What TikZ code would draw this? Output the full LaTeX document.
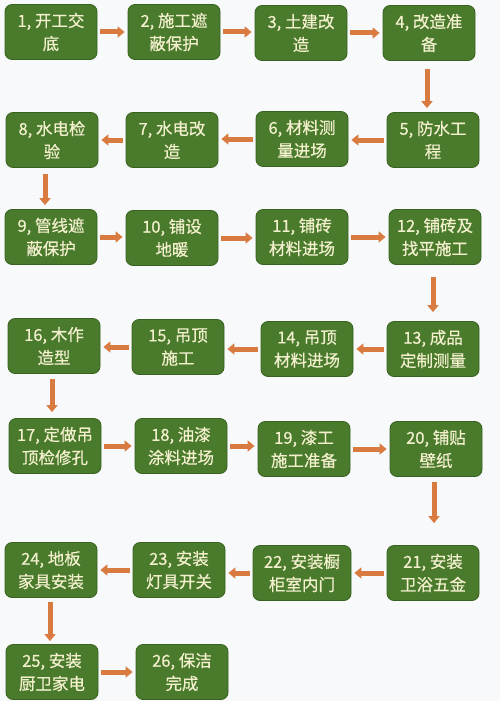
\documentclass[tikz,border=0pt]{standalone}
\usepackage{fontspec}
\newfontfamily\cjk[FakeBold=0.5]{Noto Sans CJK SC}
\usetikzlibrary{arrows.meta}
\definecolor{boxgreen}{RGB}{74,122,44}
\definecolor{boxedge}{RGB}{56,98,32}
\definecolor{cream}{RGB}{243,240,206}
\definecolor{arrowc}{RGB}{217,122,64}
\definecolor{bgc}{RGB}{247,249,250}
\tikzset{
  stepbox/.style={rounded corners=7pt, fill=boxgreen, draw=boxedge, line width=0.8pt,
    minimum width=92pt, minimum height=55pt, text=cream, align=center, inner sep=2pt,
    font=\cjk\fontsize{16.5}{23}\selectfont},
  arr/.style={draw=arrowc, line width=5pt, -{Triangle[width=11pt,length=7pt]},
    shorten <=3pt, shorten >=3pt}
}
\begin{document}
\begin{tikzpicture}[x=1pt,y=-1pt]
\fill[bgc] (0,0) rectangle (500,701);
\useasboundingbox (0,0) rectangle (500,701);
% row 1
\node[stepbox] (n1) at (51,32) {1, 开工交\\底};
\node[stepbox] (n2) at (174,32) {2, 施工遮\\蔽保护};
\node[stepbox] (n3) at (301,33) {3, 土建改\\造};
\node[stepbox] (n4) at (429,33) {4, 改造准\\备};
% row 2
\node[stepbox] (n5) at (433,140) {5, 防水工\\程};
\node[stepbox] (n6) at (302,139) {6, 材料测\\量进场};
\node[stepbox] (n7) at (172,140) {7, 水电改\\造};
\node[stepbox] (n8) at (52,140) {8, 水电检\\验};
% row 3
\node[stepbox] (n9) at (51,237) {9, 管线遮\\蔽保护};
\node[stepbox] (n10) at (172,238) {10, 铺设\\地暖};
\node[stepbox] (n11) at (302,237) {11, 铺砖\\材料进场};
\node[stepbox] (n12) at (435,237) {12, 铺砖及\\找平施工};
% row 4
\node[stepbox] (n13) at (433,349) {13, 成品\\定制测量};
\node[stepbox] (n14) at (307,349) {14, 吊顶\\材料进场};
\node[stepbox] (n15) at (178,347) {15, 吊顶\\施工};
\node[stepbox] (n16) at (54,346) {16, 木作\\造型};
% row 5
\node[stepbox] (n17) at (55,446) {17, 定做吊\\顶检修孔};
\node[stepbox] (n18) at (181,446) {18, 油漆\\涂料进场};
\node[stepbox] (n19) at (304,449) {19, 漆工\\施工准备};
\node[stepbox] (n20) at (436,449) {20, 铺贴\\壁纸};
% row 6
\node[stepbox] (n21) at (433,573) {21, 安装\\卫浴五金};
\node[stepbox, minimum width=98pt] (n22) at (302,573) {22, 安装橱\\柜室内门};
\node[stepbox] (n23) at (179,570) {23, 安装\\灯具开关};
\node[stepbox] (n24) at (51,570) {24, 地板\\家具安装};
% row 7
\node[stepbox] (n25) at (52,672) {25, 安装\\厨卫家电};
\node[stepbox] (n26) at (182,672) {26, 保洁\\完成};
% horizontal arrows
\draw[arr] (n1.east) -- (n1.east -| n2.west);
\draw[arr] (n2.east) -- (n2.east -| n3.west);
\draw[arr] (n3.east) -- (n3.east -| n4.west);
\draw[arr] (n5.west) -- (n5.west -| n6.east);
\draw[arr] (n6.west) -- (n6.west -| n7.east);
\draw[arr] (n7.west) -- (n7.west -| n8.east);
\draw[arr] (n9.east) -- (n9.east -| n10.west);
\draw[arr] (n10.east) -- (n10.east -| n11.west);
\draw[arr] (n11.east) -- (n11.east -| n12.west);
\draw[arr] (n13.west) -- (n13.west -| n14.east);
\draw[arr] (n14.west) -- (n14.west -| n15.east);
\draw[arr] (n15.west) -- (n15.west -| n16.east);
\draw[arr] (n17.east) -- (n17.east -| n18.west);
\draw[arr] (n18.east) -- (n18.east -| n19.west);
\draw[arr] (n19.east) -- (n19.east -| n20.west);
\draw[arr] (n21.west) -- (n21.west -| n22.east);
\draw[arr] (n22.west) -- (n22.west -| n23.east);
\draw[arr] (n23.west) -- (n23.west -| n24.east);
\draw[arr] (n25.east) -- (n25.east -| n26.west);
% vertical arrows
\draw[arr, shorten <=8pt, shorten >=4pt] ([xshift=-2pt]n4.south) -- ([xshift=-2pt]n4.south |- n5.north);
\draw[arr, shorten <=6pt, shorten >=4pt] ([xshift=-7pt]n8.south) -- ([xshift=-7pt]n8.south |- n9.north);
\draw[arr, shorten <=12pt, shorten >=9pt] ([xshift=-2pt]n12.south) -- ([xshift=-2pt]n12.south |- n13.north);
\draw[arr, shorten <=5pt, shorten >=6pt] ([xshift=-2pt]n16.south) -- ([xshift=-2pt]n16.south |- n17.north);
\draw[arr, shorten <=5pt, shorten >=22pt] ([xshift=-2pt]n20.south) -- ([xshift=-2pt]n20.south |- n21.north);
\draw[arr, shorten <=4pt, shorten >=3pt] ([xshift=-1pt]n24.south) -- ([xshift=-1pt]n24.south |- n25.north);
\end{tikzpicture}
\end{document}
